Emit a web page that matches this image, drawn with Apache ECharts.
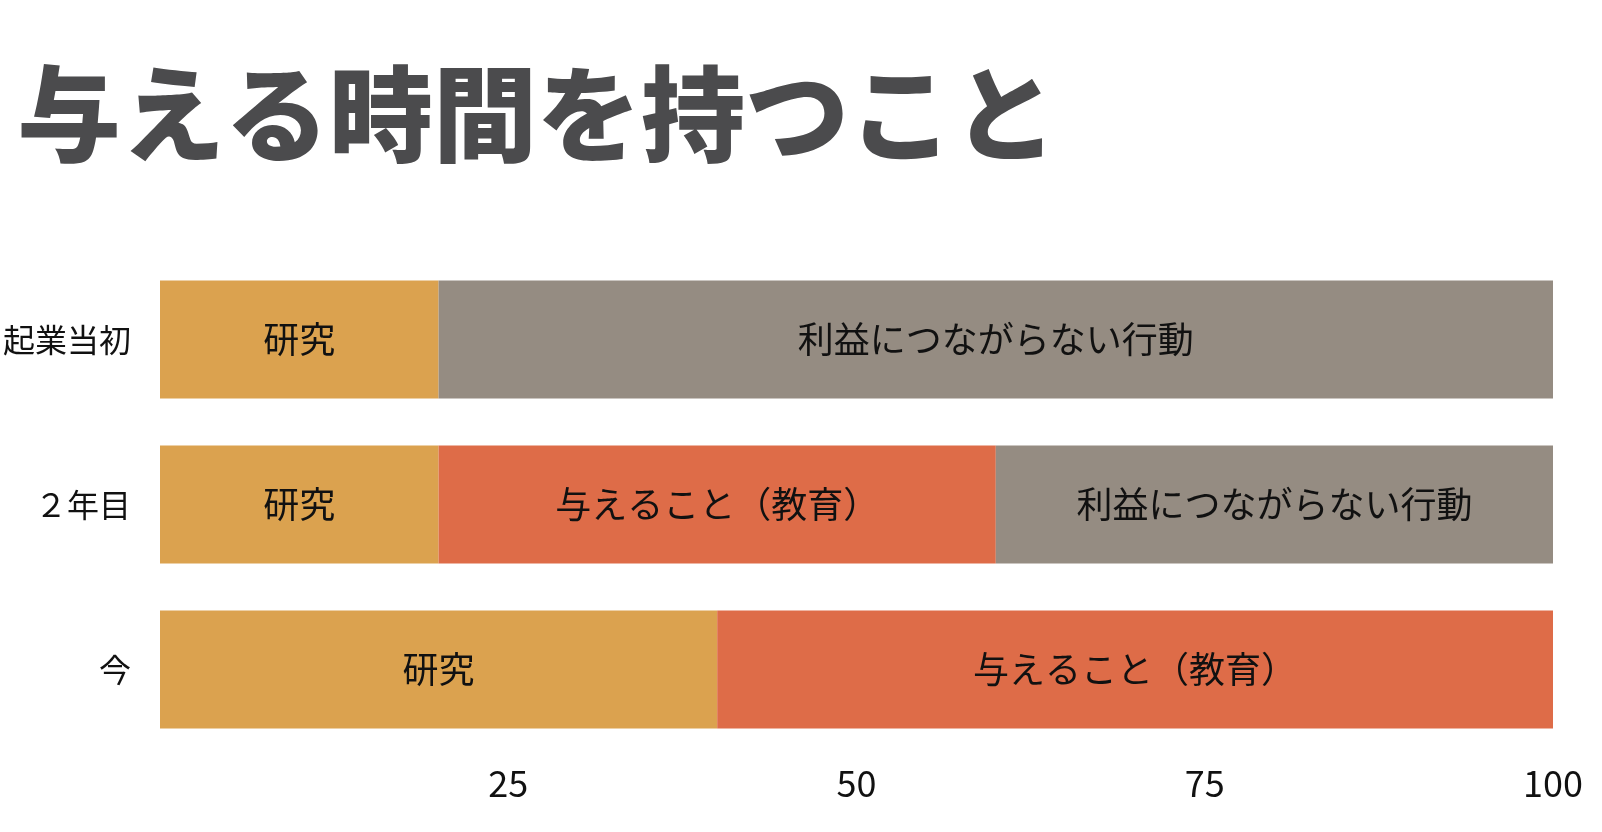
<!DOCTYPE html>
<html>
<head>
<meta charset="utf-8">
<script src="https://cdn.jsdelivr.net/npm/echarts@6/dist/echarts.min.js"></script>
<style>
  html, body { margin: 0; padding: 0; background: #fff; }
  #chart { width: 1602px; height: 832px; }
</style>
</head>
<body>
<div id="chart"></div>
<script>
    var categories = ['起業当初', '２年目', '今'];
    var research = [20, 20, 40];
    var giving = [0, 40, 60];
    var unprofitable = [80, 40, 0];
    var xTicks = [25, 50, 75, 100];

    var font = '"Noto Sans CJK JP", "Noto Sans", sans-serif';
    var myChart = echarts.init(document.getElementById('chart'));

    function barLabel(params) {
        return params.value ? params.seriesName : '';
    }

    function makeSeries(name, data, color) {
        return {
            name: name,
            type: 'bar',
            stack: 'total',
            barCategoryGap: '28.5%',
            data: data,
            itemStyle: { color: color },
            label: {
                show: true,
                position: 'inside',
                formatter: barLabel,
                color: '#111',
                fontSize: 36,
                fontFamily: font
            }
        };
    }

    var option = {
        backgroundColor: '#fff',
        animation: false,
        title: {
            text: '与える時間を持つこと',
            left: 12,
            top: 57,
            textStyle: {
                color: '#4b4b4d',
                fontSize: 104,
                fontWeight: 900,
                fontFamily: font
            }
        },
        grid: {
            left: 155,
            right: 49,
            top: 257,
            bottom: 80,
            containLabel: false
        },
        xAxis: {
            type: 'value',
            min: 0,
            max: 100,
            interval: 25,
            axisLine: { show: false },
            axisTick: { show: false },
            splitLine: { show: false },
            axisLabel: {
                color: '#111',
                fontSize: 36,
                fontFamily: font,
                margin: 13,
                formatter: function (v) {
                    return xTicks.indexOf(v) >= 0 ? String(v) : '';
                }
            }
        },
        yAxis: {
            type: 'category',
            inverse: true,
            data: categories,
            axisLine: { show: false },
            axisTick: { show: false },
            axisLabel: {
                color: '#111',
                fontSize: 32,
                fontFamily: font,
                margin: 29
            }
        },
        series: [
            makeSeries('研究', research, '#dba24f'),
            makeSeries('与えること（教育）', giving, '#de6c48'),
            makeSeries('利益につながらない行動', unprofitable, '#958c82')
        ]
    };
    myChart.setOption(option);
</script>
</body>
</html>
